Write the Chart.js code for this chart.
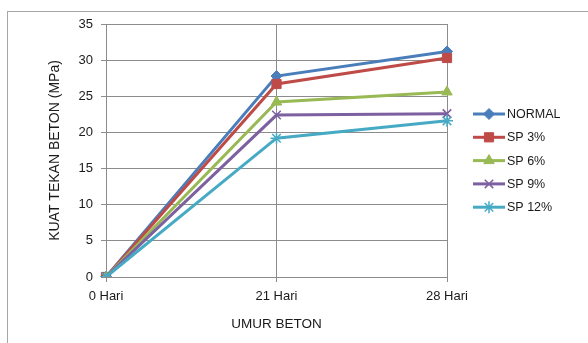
<!DOCTYPE html>
<html lang="id">
<head>
    <meta charset="UTF-8">
    <title>Kuat Tekan Beton</title>
    <script src="https://cdn.jsdelivr.net/npm/chart.js"></script>
    <style>
        html, body { margin: 0; padding: 0; background: #fff; }
    </style>
</head>
<body>
    <canvas id="kuatChart" width="588" height="343"></canvas>
    <script>
        // data
        const umur = ['0 Hari', '21 Hari', '28 Hari'];
        const normal = [0, 27.8, 31.2];
        const sp3 = [0, 26.7, 30.3];
        const sp6 = [0, 24.2, 25.6];
        const sp9 = [0, 22.4, 22.6];
        const sp12 = [0, 19.2, 21.6];
        const seriesNames = ['NORMAL', 'SP 3%', 'SP 6%', 'SP 9%', 'SP 12%'];

        const textColor = '#1a1a1a';
        const gridColor = '#8c8c8c';

        function makeSet(label, data, color, style, radius, bw, order) {
            return {
                label: label,
                data: data,
                borderColor: color,
                backgroundColor: color,
                borderWidth: 3,
                pointStyle: style,
                pointRadius: radius,
                pointBorderWidth: bw,
                pointBorderColor: color,
                pointBackgroundColor: color,
                tension: 0,
                order: order
            };
        }

        const datasets = [
            makeSet(seriesNames[0], normal, '#4a7ebb', 'rectRot', 5.5, 1, 5),
            makeSet(seriesNames[1], sp3, '#be4b48', 'rect', 6.5, 1, 4),
            makeSet(seriesNames[2], sp6, '#98b954', 'triangle', 6, 1, 3),
            makeSet(seriesNames[3], sp9, '#7d60a0', 'crossRot', 6, 1.5, 2),
            makeSet(seriesNames[4], sp12, '#46aac5', 'star', 6, 1.5, 1)
        ];

        // outer frame + legend drawn by hand (excel style: line with marker)
        const excelBits = {
            id: 'excelBits',
            beforeDraw(chart) {
                const ctx = chart.ctx;
                ctx.save();
                ctx.strokeStyle = '#a6a6a6';
                ctx.lineWidth = 1;
                ctx.strokeRect(7.5, 11.5, 700, 400);
                ctx.restore();
            },
            afterDraw(chart) {
                const ctx = chart.ctx;
                const x0 = 473, x1 = 505, y0 = 114, step = 23.3;
                chart.data.datasets.forEach((ds, i) => {
                    const y = y0 + i * step;
                    ctx.save();
                    ctx.strokeStyle = ds.borderColor;
                    ctx.lineWidth = 3;
                    ctx.beginPath();
                    ctx.moveTo(x0, y);
                    ctx.lineTo(x1, y);
                    ctx.stroke();
                    ctx.fillStyle = ds.pointBackgroundColor;
                    ctx.strokeStyle = ds.pointBorderColor;
                    ctx.lineWidth = ds.pointBorderWidth;
                    Chart.helpers.drawPoint(ctx, {
                        pointStyle: ds.pointStyle,
                        radius: ds.pointRadius,
                        rotation: 0,
                        borderWidth: ds.pointBorderWidth
                    }, (x0 + x1) / 2, y);
                    ctx.fillStyle = textColor;
                    ctx.font = '12.5px "Liberation Sans", Arial, sans-serif';
                    ctx.textBaseline = 'middle';
                    ctx.textAlign = 'left';
                    ctx.fillText(ds.label, 507, y + 0.5);
                    ctx.restore();
                });
            }
        };

        const ctx = document.getElementById('kuatChart').getContext('2d');
        const chart = new Chart(ctx, {
            type: 'line',
            data: {
                labels: umur,
                datasets: datasets
            },
            options: {
                responsive: false,
                animation: false,
                devicePixelRatio: 1,
                layout: {
                    padding: { top: 24, right: 141, bottom: 0, left: 0 }
                },
                plugins: {
                    legend: { display: false },
                    tooltip: { enabled: false }
                },
                scales: {
                    x: {
                        offset: false,
                        afterFit: (scale) => { scale.height = 66; },
                        grid: {
                            color: gridColor,
                            lineWidth: 1,
                            drawTicks: true,
                            tickLength: 5
                        },
                        border: { color: gridColor },
                        ticks: {
                            color: textColor,
                            padding: 7,
                            maxRotation: 0,
                            font: { family: '"Liberation Sans", Arial, sans-serif', size: 13 }
                        },
                        title: {
                            display: true,
                            text: 'UMUR BETON',
                            color: textColor,
                            padding: { top: 0, bottom: 11 },
                            font: { family: '"Liberation Sans", Arial, sans-serif', size: 13.5 }
                        }
                    },
                    y: {
                        min: 0,
                        max: 35,
                        afterFit: (scale) => { scale.width = 106; },
                        grid: {
                            color: gridColor,
                            lineWidth: 1,
                            drawTicks: true,
                            tickLength: 5
                        },
                        border: { color: gridColor },
                        ticks: {
                            stepSize: 5,
                            color: textColor,
                            padding: 8,
                            font: { family: '"Liberation Sans", Arial, sans-serif', size: 13 }
                        },
                        title: {
                            display: true,
                            text: 'KUAT TEKAN BETON (MPa)',
                            color: textColor,
                            padding: { top: 47, bottom: 0 },
                            font: { family: '"Liberation Sans", Arial, sans-serif', size: 14 }
                        }
                    }
                }
            },
            plugins: [excelBits]
        });
    </script>
</body>
</html>
